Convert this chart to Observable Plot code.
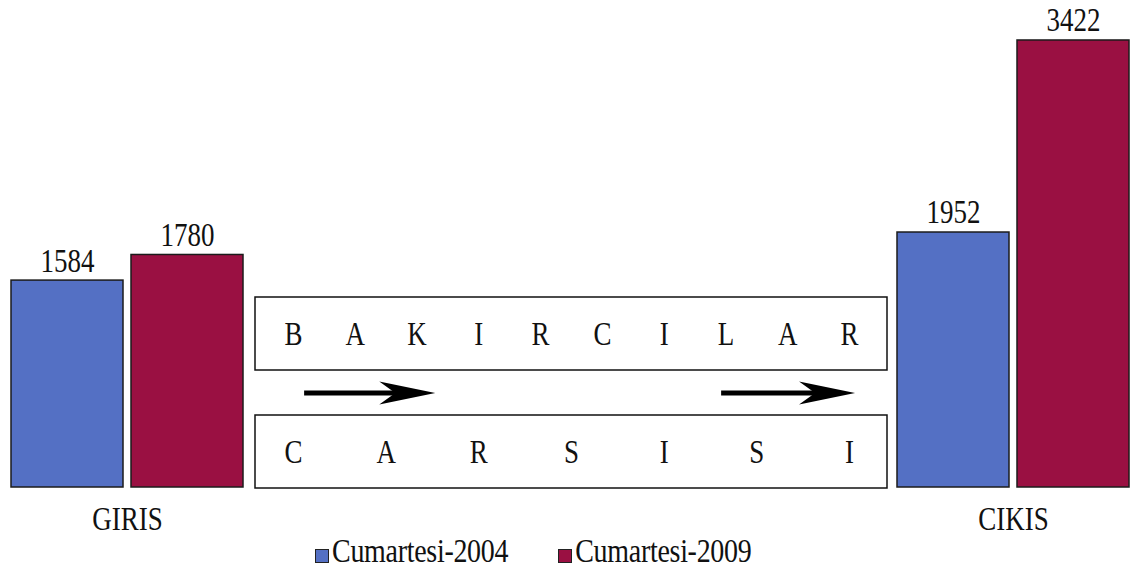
<!DOCTYPE html>
<html><head><meta charset="utf-8">
<script src="https://cdn.jsdelivr.net/npm/d3@7"></script>
<script src="https://cdn.jsdelivr.net/npm/@observablehq/plot@0.6"></script>
<style>
body{margin:0;background:#fff;}
#chart{position:relative;width:1134px;height:572px;font-family:"Liberation Serif","Times New Roman",serif;color:#111;}
#main{position:absolute;left:0;top:0;}
#mid{position:absolute;left:254px;top:296px;}
#legend{position:absolute;left:315px;top:535px;display:flex;align-items:center;font-family:"Liberation Serif",serif;font-size:28px;line-height:32px;}
#legend .item{display:flex;align-items:center;margin-right:50px;}
#legend .sw{width:12px;height:12px;border:1px solid #222;margin-right:3px;margin-top:9px;}
#legend .lbl{display:inline-block;transform:scaleY(1.2);letter-spacing:-0.3px;}
</style></head><body>
<div id="chart"><div id="main"></div><div id="mid"></div><div id="legend"></div></div>
<script>
const locations = ["GIRIS", "CIKIS"];
const periods = ["Cumartesi-2004", "Cumartesi-2009"];
const values2004 = [1584, 1952];
const values2009 = [1780, 3422];
const colors = ["#5470c4", "#9a1042"];
const topWord = ["B","A","K","I","R","C","I","L","A","R"];
const bottomWord = ["C","A","R","S","I","S","I"];
const arrowSpans = [[0.02, 0.255], [0.77, 1.01]];

const bars = locations.flatMap((loc, i) => [
  {loc, period: periods[0], value: values2004[i]},
  {loc, period: periods[1], value: values2009[i]}
]);

const font = "Liberation Serif";

const main = Plot.plot({
  width: 1134, height: 540,
  marginLeft: 11, marginRight: 4, marginTop: 20, marginBottom: 53,
  style: {fontFamily: font, fontSize: "27px", background: "transparent", color: "#111"},
  fx: {domain: locations, paddingInner: 0.738, paddingOuter: 0, axis: null, label: null},
  x: {domain: periods, paddingInner: 0.07, paddingOuter: 0, axis: null, label: null},
  y: {domain: [0, 3575], axis: null, label: null},
  color: {domain: periods, range: colors},
  marks: [
    Plot.barY(bars, {fx: "loc", x: "period", y: "value", fill: "period", stroke: "#1b1b1b", strokeWidth: 1.5}),
    Plot.text(bars, {fx: "loc", x: "period", y: "value", text: d => String(d.value), dy: -11, lineAnchor: "bottom", fontSize: 27, fontFamily: font, fill: "#111"}),
    Plot.text(locations, {fx: d => d, text: d => d, frameAnchor: "bottom", dy: 41, fontSize: 27, fontFamily: font, fill: "#111"})
  ]
});
document.getElementById("main").appendChild(main);

const rowKeys = [topWord.join(""), "arrows", bottomWord.join("")];
const letters = topWord.map((ch, i) => ({row: rowKeys[0], ch, pos: i / (topWord.length - 1)}))
  .concat(bottomWord.map((ch, i) => ({row: rowKeys[2], ch, pos: i / (bottomWord.length - 1)})));

const stealth = {
  draw(ctx) {
    ctx.moveTo(0, 0);
    ctx.lineTo(-56, -11.5);
    ctx.lineTo(-40, 0);
    ctx.lineTo(-56, 11.5);
    ctx.closePath();
  }
};

const mid = Plot.plot({
  width: 634, height: 194,
  marginLeft: 1, marginRight: 1, marginTop: 8, marginBottom: 9,
  style: {fontFamily: font, fontSize: "27px", background: "transparent", color: "#111", overflow: "visible"},
  x: {domain: [0, 1], inset: 38, axis: null},
  y: {type: "band", domain: rowKeys, padding: 0, axis: null},
  marks: [
    Plot.cell([rowKeys[0], rowKeys[2]], {y: d => d, fill: "white", stroke: "#111", strokeWidth: 1.5, insetTop: -7, insetBottom: -7}),
    Plot.text(letters, {x: "pos", y: "row", text: "ch", fontSize: 27, fontFamily: font, fill: "#111"}),
    Plot.ruleY(arrowSpans, {y: () => rowKeys[1], x1: d => d[0], x2: d => d[1] - 0.03, strokeWidth: 5, stroke: "#000"}),
    Plot.dot(arrowSpans, {x: d => d[1], y: () => rowKeys[1], r: 10, symbol: stealth, fill: "#000", stroke: "none"})
  ]
});
document.getElementById("mid").appendChild(mid);

// the reference's lettering is drawn tall and narrow: stretch each text vertically about its own centre
function stretchText(svg, s) {
  svg.querySelectorAll("text").forEach(t => {
    const b = t.getBBox();
    const cy = b.y + b.height / 2;
    const prev = t.getAttribute("transform") || "";
    t.setAttribute("transform", `${prev} translate(0,${cy}) scale(1,${s}) translate(0,${-cy})`);
  });
}
stretchText(main, 1.22);
stretchText(mid, 1.22);

const legend = document.getElementById("legend");
periods.forEach((p, i) => {
  const item = document.createElement("div");
  item.className = "item";
  const sw = document.createElement("span");
  sw.className = "sw";
  sw.style.background = colors[i];
  const label = document.createElement("span");
  label.className = "lbl";
  label.textContent = p;
  item.appendChild(sw);
  item.appendChild(label);
  legend.appendChild(item);
});
</script>
</body></html>
